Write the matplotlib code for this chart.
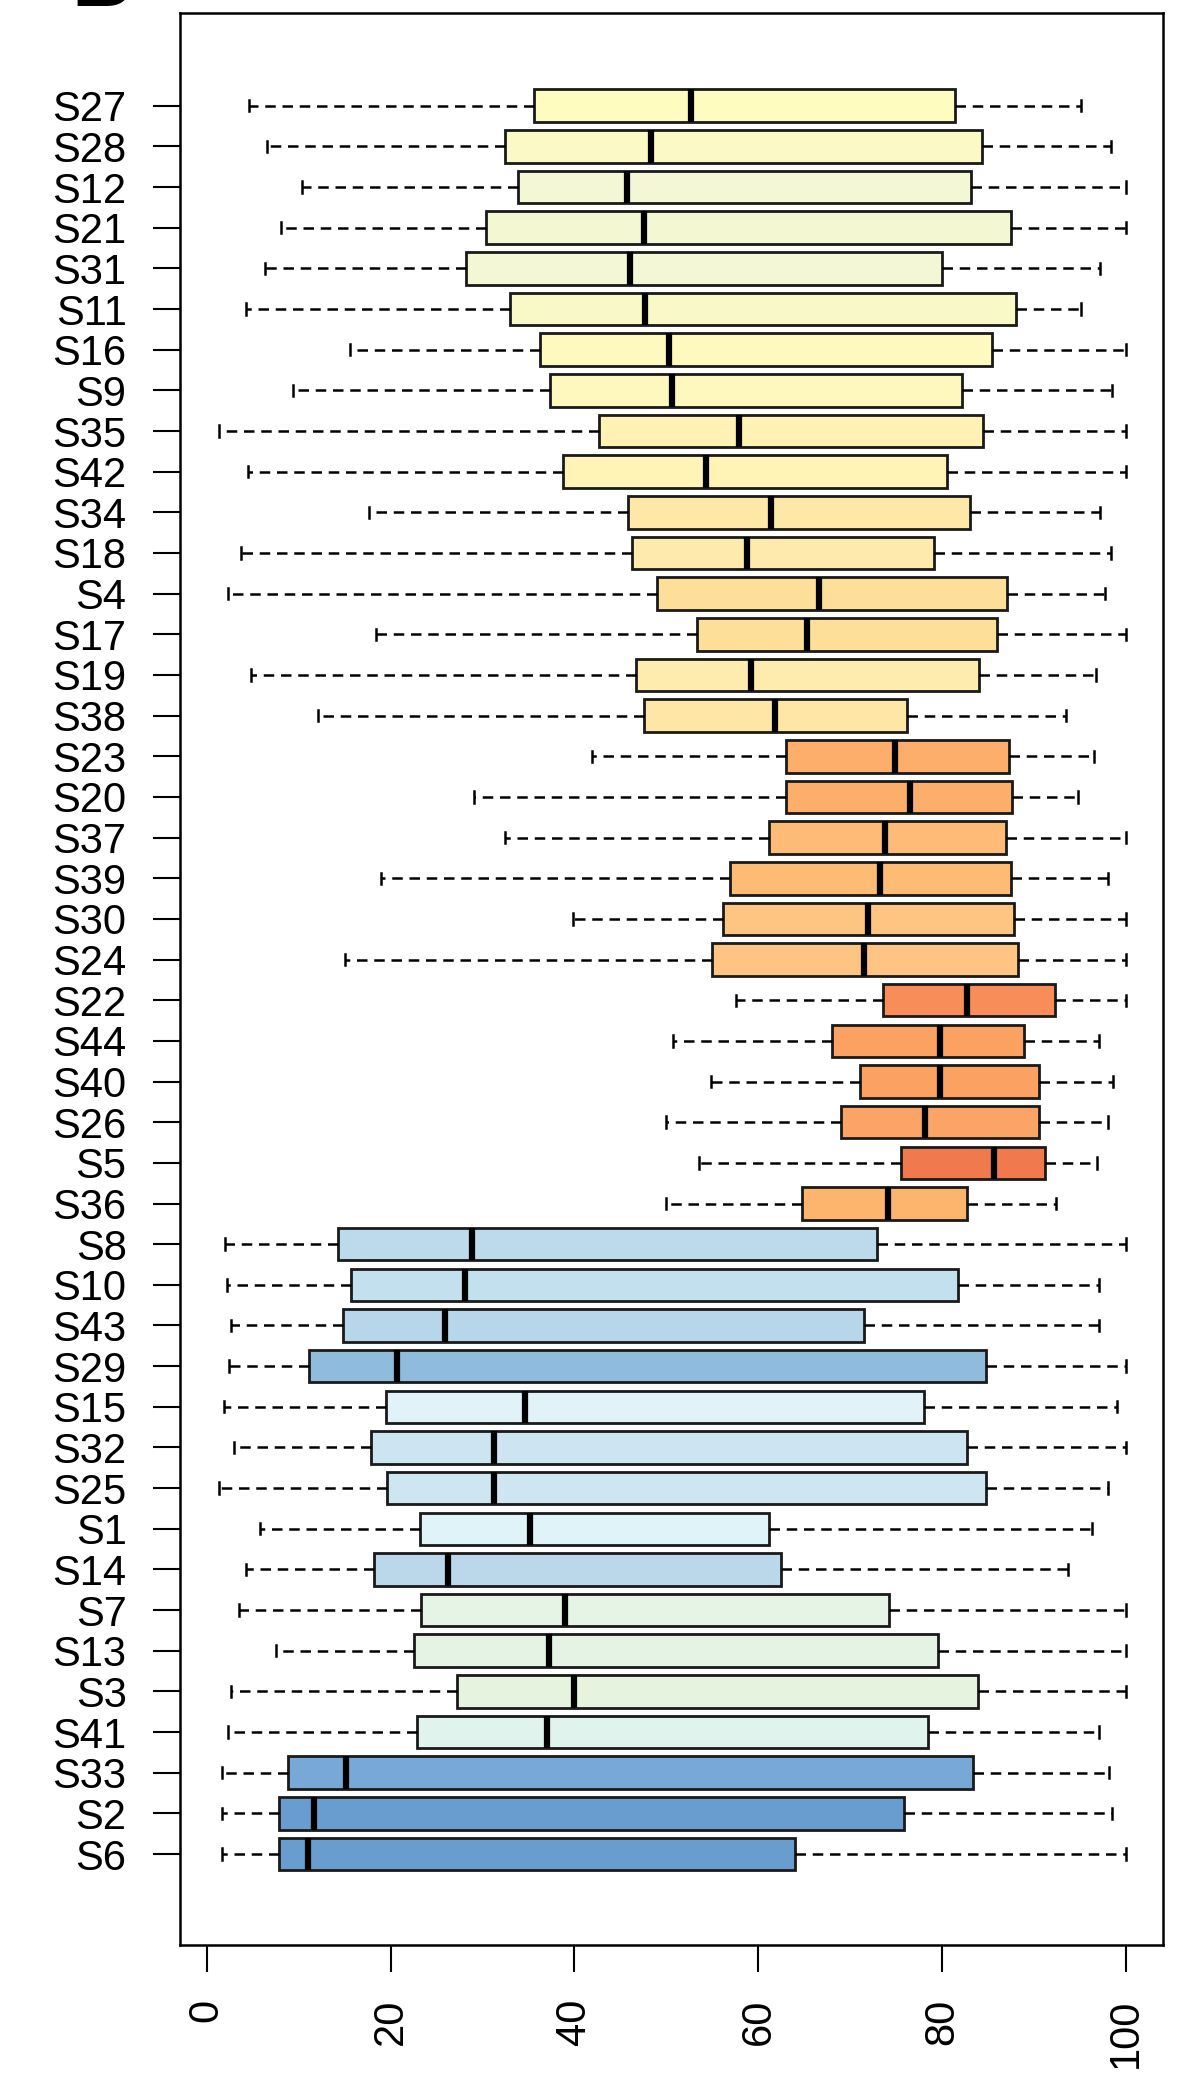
import numpy as np
import matplotlib
matplotlib.use('Agg')
import matplotlib.pyplot as plt

plt.rcParams['font.family'] = ['Liberation Sans', 'DejaVu Sans']

# top to bottom
labels = ["S27", "S28", "S12", "S21", "S31", "S11", "S16", "S9", "S35", "S42",
          "S34", "S18", "S4", "S17", "S19", "S38", "S23", "S20", "S37", "S39",
          "S30", "S24", "S22", "S44", "S40", "S26", "S5", "S36", "S8", "S10",
          "S43", "S29", "S15", "S32", "S25", "S1", "S14", "S7", "S13", "S3",
          "S41", "S33", "S2", "S6"]
whislo = [4.6, 6.6, 10.4, 8.1, 6.3, 4.3, 15.6, 9.4, 1.3, 4.5,
          17.6, 3.7, 2.3, 18.4, 4.8, 12.1, 41.9, 29.1, 32.4, 19.0,
          39.8, 15.0, 57.6, 50.7, 54.8, 49.9, 53.5, 50.0, 2.0, 2.2,
          2.6, 2.4, 1.9, 3.0, 1.3, 5.8, 4.3, 3.5, 7.5, 2.7,
          2.3, 1.7, 1.7, 1.7]
q1 = [35.6, 32.4, 33.9, 30.4, 28.2, 33.0, 36.3, 37.3, 42.7, 38.8,
      45.8, 46.3, 49.0, 53.3, 46.7, 47.6, 63.0, 63.0, 61.2, 56.9,
      56.1, 55.0, 73.5, 68.0, 71.0, 69.0, 75.5, 64.7, 14.3, 15.7,
      14.8, 11.1, 19.5, 17.9, 19.6, 23.2, 18.2, 23.3, 22.6, 27.2,
      22.9, 8.9, 7.9, 7.9]
med = [52.7, 48.3, 45.7, 47.6, 46.0, 47.7, 50.3, 50.6, 57.9, 54.3,
       61.4, 58.8, 66.6, 65.3, 59.2, 61.8, 74.8, 76.5, 73.8, 73.2,
       71.9, 71.5, 82.7, 79.7, 79.7, 78.1, 85.6, 74.1, 28.8, 28.1,
       25.9, 20.7, 34.6, 31.3, 31.3, 35.2, 26.2, 39.0, 37.2, 39.9,
       37.0, 15.1, 11.7, 11.0]
q3 = [81.4, 84.3, 83.1, 87.5, 80.0, 88.0, 85.4, 82.1, 84.4, 80.5,
      83.0, 79.1, 87.0, 85.9, 84.0, 76.2, 87.2, 87.6, 86.9, 87.5,
      87.8, 88.2, 92.2, 88.9, 90.5, 90.5, 91.2, 82.7, 72.9, 81.7,
      71.5, 84.7, 78.0, 82.7, 84.7, 61.1, 62.5, 74.2, 79.5, 83.9,
      78.4, 83.3, 75.8, 64.0]
whishi = [95.1, 98.3, 100, 100, 97.1, 95.1, 100, 98.4, 100, 100,
          97.1, 98.3, 97.7, 100, 96.7, 93.4, 96.5, 94.7, 100, 98.0,
          100, 100, 100, 97.0, 98.6, 98.0, 96.8, 92.4, 100, 97.0,
          97.0, 100, 99.0, 100, 98.0, 96.3, 93.7, 100, 100, 100,
          97.0, 98.1, 98.4, 100]
colors = ["#FEFCBF", "#FBF9C6", "#F3F7D6", "#F4F8D2", "#F3F7D6", "#F9F9C8",
          "#FEF9BE", "#FEF8BE", "#FFF2B4", "#FFF3B6", "#FEE8A8", "#FEEAAC",
          "#FEDF9A", "#FEDF9A", "#FEEBAE", "#FEE6A6", "#FDAE6A", "#FDAE6A",
          "#FDBB78", "#FDBB74", "#FDC581", "#FDC581", "#F88D5A", "#FBA263",
          "#FBA263", "#FBA466", "#F07A4D", "#FDB56E", "#BCDAEB", "#C3E0EE",
          "#B7D6EA", "#8FBCDD", "#E1F2F8", "#CCE5F1", "#CDE6F2", "#E0F3F8",
          "#BAD8EA", "#E6F4E6", "#E4F3E4", "#E6F4DF", "#E0F3EC", "#78A8D6",
          "#6A9DCF", "#6A9DCF"]
xticks = [0, 20, 40, 60, 80, 100]

n = len(labels)
pos = np.arange(n, 0, -1)  # first label at top

stats = []
for i in range(n):
    stats.append(dict(whislo=whislo[i], q1=q1[i], med=med[i],
                      q3=q3[i], whishi=whishi[i], fliers=[]))

fig = plt.figure(figsize=(11.88, 20.73), dpi=100)
ax = fig.add_axes([0.1515, 0.0617, 0.979 - 0.1515, 0.9937 - 0.0617])

bp = ax.bxp(stats, positions=pos, vert=False, widths=0.8, capwidths=0.28,
            patch_artist=True, showfliers=False,
            boxprops=dict(edgecolor='#1a1a1a', linewidth=2.0),
            medianprops=dict(color='black', linewidth=4.5),
            whiskerprops=dict(color='black', linewidth=1.8, linestyle=(0, (4.2, 2.7))),
            capprops=dict(color='black', linewidth=1.8))
for patch, c in zip(bp['boxes'], colors):
    patch.set_facecolor(c)

ax.set_xlim(-2.9, 104)
ax.set_ylim(-1.24, n + 2.28)
ax.set_yticks(pos)
ax.set_yticklabels(labels)
ax.set_xticks(xticks)
ax.set_xticklabels([str(t) for t in xticks], rotation=90, va='top')
ax.tick_params(axis='both', labelsize=30, length=19.5, width=1.5, pad=19)
for sp in ax.spines.values():
    sp.set_linewidth(1.8)

# panel letter, cut off at the top edge as in the original
fig.text(0.06, 1 - 6 / 2073, 'B', fontsize=60, fontweight='bold', va='baseline')

fig.savefig('out.png', dpi=100)
